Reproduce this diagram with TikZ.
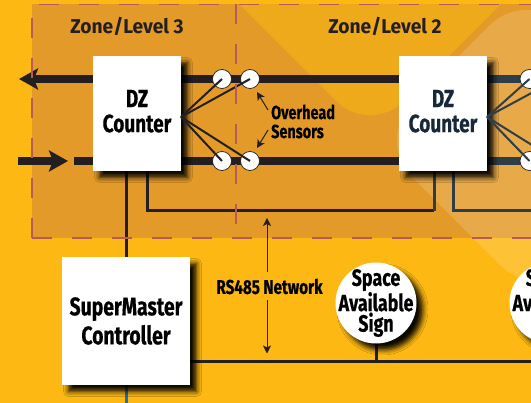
\documentclass[tikz,border=0pt]{standalone}
\usepackage{fontspec}
\setmainfont{Fira Sans}
\newfontfamily\narrowfont[FakeStretch=0.76,BoldFeatures={FakeBold=0.5}]{Fira Sans}
\newfontfamily\zonefont[FakeStretch=0.96]{Fira Sans}
\usetikzlibrary{arrows.meta,shadows.blur}
\definecolor{bgyellow}{HTML}{FDB813}
\definecolor{zonefill}{HTML}{E49A29}
\definecolor{zonelight}{HTML}{EEAA1B}
\definecolor{zonedash}{HTML}{B85A55}
\definecolor{linedark}{HTML}{231F20}
\definecolor{linetint}{HTML}{2E3E48}
\definecolor{textink}{HTML}{000000}
\definecolor{texttint}{HTML}{16283A}
\definecolor{netblue}{HTML}{1F6FB2}
\pgfdeclarelayer{zones}
\pgfdeclarelayer{lines}
\pgfsetlayers{zones,lines,main}
\tikzset{
  dropshade/.style={blur shadow={shadow xshift=6.5pt,shadow yshift=-6.5pt,shadow blur radius=5pt,shadow opacity=95}},
  unitbox/.style={fill=white,inner sep=0pt,align=center,dropshade,font=\narrowfont\bfseries\fontsize{25}{25}\selectfont},
  dzbox/.style={unitbox,minimum width=88pt,minimum height=115pt,text depth=5pt},
  signnode/.style={circle,fill=white,inner sep=0pt,minimum size=81pt,dropshade},
  signtext/.style={inner sep=0pt,align=center,text=textink,font=\narrowfont\bfseries\fontsize{23.5}{20.5}\selectfont},
  sensor/.style={circle,fill=white,draw=linedark,line width=.7pt,inner sep=0pt,minimum size=19pt},
  zonelabel/.style={inner sep=0pt,text=linedark,font=\zonefont\bfseries\fontsize{20}{20}\selectfont},
  smalllabel/.style={inner sep=0pt,align=left,text=textink,font=\narrowfont\bfseries\fontsize{19}{19}\selectfont},
  trunk/.style={draw=linedark,line width=7.5pt},
  trunktint/.style={draw=linetint,line width=7.5pt},
  busline/.style={draw=linedark,line width=3pt},
  bustint/.style={draw=linetint,line width=3pt},
  fanline/.style={draw=linedark,line width=2pt},
  fantint/.style={draw=linetint,line width=2pt},
  flowtip/.style={-{Stealth[length=19pt,width=21pt,inset=4pt]}},
  notearrow/.style={draw=linedark,line width=1pt,-{Stealth[length=8pt,width=8pt,inset=2pt]}},
  zoneedge/.style={draw=zonedash,line width=1.3pt,dash pattern=on 20pt off 20pt},
}
\begin{document}
\begin{tikzpicture}[x=1pt,y=-1pt]
\useasboundingbox (0,0) rectangle (531,403);
\clip (0,0) rectangle (531,403);
% units
\node[dzbox] (dzc3) at (137,113.5) {DZ\\Counter};
\node[dzbox,text=texttint] (dzc2) at (443,113.5) {DZ\\Counter};
\node[unitbox,minimum width=128pt,minimum height=128pt,text=textink,font=\narrowfont\bfseries\fontsize{25.5}{29}\selectfont] (smc) at (126,321) {SuperMaster\\Controller};
\node[signnode,label={[signtext]center:{Space\\Available\\Sign}}] (sign1) at (376,303) {};
\node[signnode,label={[signtext]center:{Space\\Available\\Sign}}] (sign2) at (550,303) {};
% zones
\begin{pgfonlayer}{zones}
\fill[bgyellow] (0,0) rectangle (531,403);
\fill[zonefill] (32,4.5) rectangle (531,238);
\begin{scope}
\clip (32,4.5) rectangle (531,238);
\fill[zonelight,rounded corners=48pt] (200,-35) -- (370,135) -- (540,-35) -- cycle;
\end{scope}
\fill[white,opacity=.15,rounded corners=53pt] (375,140) -- (527,-12) -- (688,151) -- (537,302) -- cycle;
\end{pgfonlayer}
% sensors
\node[sensor] (s3a) at (222,79) {};
\node[sensor] (s3b) at (250,79) {};
\node[sensor] (s3c) at (222,161) {};
\node[sensor] (s3d) at (250,161) {};
\node[sensor] (s2a) at (529.5,79) {};
\node[sensor] (s2b) at (557.5,79) {};
\node[sensor] (s2c) at (529.5,161) {};
\node[sensor] (s2d) at (557.5,161) {};
\coordinate (fan3) at (181,117);
\coordinate (fan2) at (487,117);
\draw[fanline] (fan3) -- (s3a.center);
\draw[fanline] (fan3) -- (s3b.center);
\draw[fanline] (fan3) -- (s3c.center);
\draw[fanline] (fan3) -- (s3d.center);
\draw[fantint] (fan2) -- (s2a.center);
\draw[fantint] (fan2) -- (s2b.center);
\draw[fantint] (fan2) -- (s2c.center);
\draw[fantint] (fan2) -- (s2d.center);
% trunks and buses
\coordinate (outtip) at (19,79);
\coordinate (intail) at (18,161);
\coordinate (intip) at (68,161);
\coordinate (inback) at (74,161);
\coordinate (edgetop) at (531,79);
\coordinate (edgelow) at (531,161);
\coordinate (busl) at (147,211);
\coordinate (busm) at (434,211);
\coordinate (busr) at (453,211);
\coordinate (buse) at (531,211);
\coordinate (nete) at (531,361.5);
\coordinate (netb) at (126,403);
\begin{pgfonlayer}{lines}
\draw[trunk,flowtip] (dzc3.west |- outtip) -- (outtip);
\draw[trunk,flowtip] (intail) -- (intip);
\draw[trunk] (inback) -- (dzc3.west |- inback);
\draw[trunk] (dzc3.east |- outtip) -- (dzc2.west |- outtip);
\draw[trunk] (dzc3.east |- inback) -- (dzc2.west |- inback);
\draw[trunktint] (dzc2.east |- edgetop) -- (edgetop);
\draw[trunktint] (dzc2.east |- edgelow) -- (edgelow);
\draw[busline] (dzc3.south -| smc) -- (smc.north);
\draw[busline] (dzc3.south -| busl) -- (busl) -- (busm);
\draw[bustint] (busm) -- (dzc2.south -| busm);
\draw[bustint] (dzc2.south -| busr) -- (busr) -- (buse);
\draw[busline] (smc.east |- nete) -- (nete);
\draw[busline] (sign1.south) -- (sign1.south |- nete);
\draw[busline] (sign2.south) -- (sign2.south |- nete);
\draw[draw=netblue,line width=3pt] (smc.south) -- (netb);
\end{pgfonlayer}
\draw[zoneedge] (32,238) -- (32,4.5) -- (531,4.5);
\draw[zoneedge] (236,4.5) -- (236,238);
\draw[zoneedge] (32,238) -- (531,238);
% labels
\node[zonelabel] (zone3) at (127,26.5) {Zone/Level 3};
\node[zonelabel] (zone2) at (385,26.5) {Zone/Level 2};
\node[smalllabel,anchor=west] (ovh) at (271,121.5) {Overhead\\Sensors};
\node[smalllabel,font=\narrowfont\bfseries\fontsize{20}{20}\selectfont] (rs485) at (269.5,286.5) {RS485 Network};
\coordinate (ovha) at (268,110);
\coordinate (ovhb) at (268,130);
\coordinate (neta) at (267,272);
\coordinate (netc) at (267,300);
\draw[notearrow] (ovha) -- (257,92);
\draw[notearrow] (ovhb) -- (257,148);
\draw[notearrow] (neta) -- (267,218);
\draw[notearrow] (netc) -- (267,353.5);
\end{tikzpicture}
\end{document}
